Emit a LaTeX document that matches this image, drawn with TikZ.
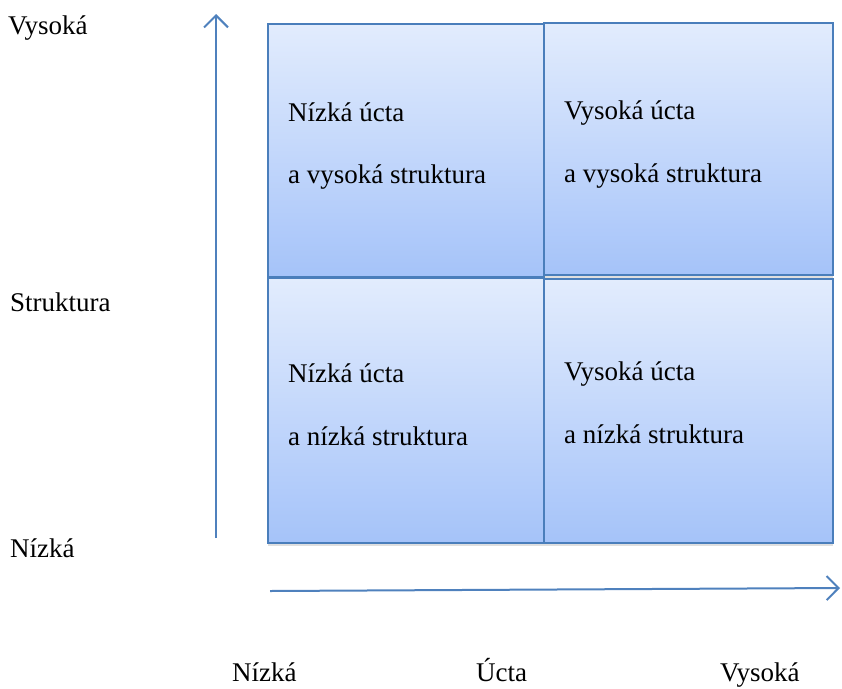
\documentclass[tikz,border=0pt]{standalone}
\usepackage{fontspec}
\setmainfont{Liberation Serif}
\usetikzlibrary{arrows.meta,shadows}
\definecolor{boxline}{HTML}{4A7EBB}
\definecolor{boxtop}{HTML}{E2ECFD}
\definecolor{boxbot}{HTML}{A5C3F9}
\definecolor{axisblue}{HTML}{4F81BD}
\begin{document}
\begin{tikzpicture}[x=1pt,y=-1pt,
  cell/.style={draw=boxline, line width=2pt, top color=boxtop, bottom color=boxbot,
    anchor=north west, inner sep=0pt,
    drop shadow={shadow xshift=0pt, shadow yshift=-3pt, opacity=0.25}},
  txt/.style={anchor=base west, inner sep=0pt, font=\fontsize{27}{32}\selectfont},
  axis/.style={draw=axisblue, line width=2pt, -{Straight Barb[length=12pt,width=24pt,line width=2pt]}}]
\useasboundingbox (0,0) rectangle (842,688);
% cells
\node[cell, minimum width=276pt, minimum height=253pt] (tl) at (267,23) {};
\node[cell, minimum width=289pt, minimum height=252pt] (tr) at (543,22) {};
\node[cell, minimum width=276pt, minimum height=265pt] (bl) at (267,277) {};
\node[cell, minimum width=289pt, minimum height=264pt] (br) at (543,278) {};
% cell texts
\node[txt] (tl1) at (288,121) {Nízká úcta};
\node[txt] (tl2) at (288,183) {a vysoká struktura};
\node[txt] (tr1) at (564,119) {Vysoká úcta};
\node[txt] (tr2) at (564,182) {a vysoká struktura};
\node[txt] (bl1) at (288,382) {Nízká úcta};
\node[txt] (bl2) at (288,445) {a nízká struktura};
\node[txt] (br1) at (564,380) {Vysoká úcta};
\node[txt] (br2) at (564,443) {a nízká struktura};
% axes
\coordinate (vs) at (216,538);
\coordinate (ve) at (216,14);
\coordinate (hs) at (270,591);
\coordinate (he) at (840,588);
\draw[axis] (vs) -- (ve);
\draw[axis] (hs) -- (he);
% axis labels
\node[txt] (yhigh) at (8,34) {Vysoká};
\node[txt] (ymid) at (10,311) {Struktura};
\node[txt] (ylow) at (10,557) {Nízká};
\node[txt] (xlow) at (232,681) {Nízká};
\node[txt] (xmid) at (476,681) {Úcta};
\node[txt] (xhigh) at (720,681) {Vysoká};
\end{tikzpicture}
\end{document}
